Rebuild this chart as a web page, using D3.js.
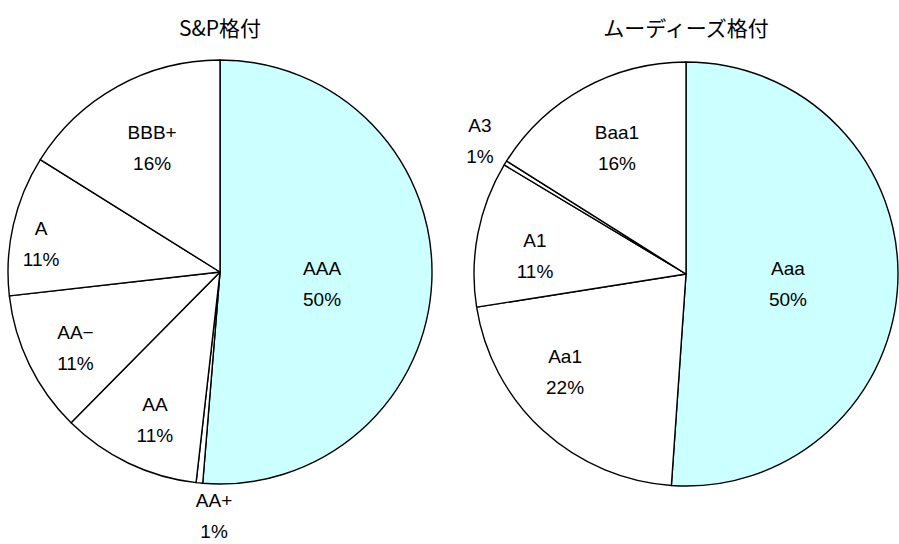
<!DOCTYPE html>
<html><head><meta charset="utf-8">
<script src="https://cdn.jsdelivr.net/npm/d3@7"></script>
<style>
html,body{margin:0;padding:0;background:#fff;}
svg{display:block;}
text{font-family:"Liberation Sans",Arial,"Noto Sans CJK JP",sans-serif;fill:#000;}
.title{font-family:"Noto Sans CJK JP","Liberation Sans",sans-serif;font-size:21px;}
</style></head>
<body><svg id="c" width="899" height="544"></svg>
<script>
// S&P ratings
const spCategories = ["AAA", "AA+", "AA", "AA−", "A", "BBB+"];
const spValues = [51.3, 0.5, 10.6, 10.8, 10.7, 16.1];
const spPctLabels = ["50%", "1%", "11%", "11%", "11%", "16%"];
// Moody's ratings
const moCategories = ["Aaa", "Aa1", "A1", "A3", "Baa1"];
const moValues = [51.1, 21.4, 11.1, 0.35, 16.05];
const moPctLabels = ["50%", "22%", "11%", "1%", "16%"];
const titles = ["S&P格付", "ムーディーズ格付"];

// label layout (angle in degrees clockwise from top, radius as fraction)
const spLabelAngle = [95.9, 181.4, 203.9, 242.6, 279.2, 331.4];
const spLabelRadius = [0.484, 1.146, 0.758, 0.768, 0.855, 0.669];
const moLabelAngle = [95.0, 231.4, 277.2, 303.0, 331.4];
const moLabelRadius = [0.483, 0.73, 0.718, 1.159, 0.68];

const svg = d3.select("#c");
const R = 212;

function drawPie(cx, cy, cats, vals, pcts, title, lAng, lRad) {
  const g = svg.append("g").attr("transform", `translate(${cx},${cy})`);
  const pie = d3.pie().sort(null).value(d => d);
  const arcs = pie(vals);
  const arc = d3.arc().innerRadius(0).outerRadius(R);
  g.selectAll("path").data(arcs).join("path")
    .attr("d", arc)
    .attr("fill", (d, i) => i === 0 ? "#ccffff" : "#ffffff")
    .attr("stroke", "#000").attr("stroke-width", 1.4)
    .attr("stroke-linejoin", "round");
  const lbl = g.selectAll("text.lbl").data(arcs).join("text")
    .attr("class", "lbl")
    .attr("text-anchor", "middle")
    .attr("font-size", "19px")
    .attr("transform", (d, i) => {
      const a = lAng[i] * Math.PI / 180, r = lRad[i] * R;
      return `translate(${r * Math.sin(a)},${-r * Math.cos(a)})`;
    });
  lbl.append("tspan").attr("x", 0).attr("y", -8).text((d, i) => cats[i]);
  lbl.append("tspan").attr("x", 0).attr("y", 23).text((d, i) => pcts[i]);
  svg.append("text").attr("class", "title")
    .attr("x", cx).attr("y", 36).attr("text-anchor", "middle").text(title);
}

drawPie(220, 272, spCategories, spValues, spPctLabels, titles[0], spLabelAngle, spLabelRadius);
drawPie(686, 274, moCategories, moValues, moPctLabels, titles[1], moLabelAngle, moLabelRadius);
</script></body></html>
